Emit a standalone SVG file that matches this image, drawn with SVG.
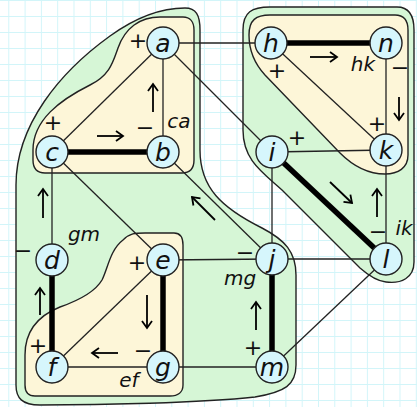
<svg xmlns="http://www.w3.org/2000/svg" width="417" height="407" viewBox="0 0 417 407">
  <style>
    .grid { stroke: #d2f5f9; stroke-width: 1; fill: none; }
    .outer { fill: #d6f6d6; stroke: #222; stroke-width: 1.4; }
    .inner { fill: #fdf6d8; stroke: #222; stroke-width: 1.4; }
    .edge { stroke: #222; stroke-width: 1.3; fill: none; }
    .thick { stroke: #000; stroke-width: 5.5; fill: none; }
    .arrow { stroke: #000; stroke-width: 1.8; fill: none; marker-end: url(#head); }
    .node circle { fill: #d6f6fc; stroke: #222; stroke-width: 1.4; }
    .node text { font-family: "DejaVu Sans", sans-serif; font-style: italic; font-size: 25px; text-anchor: middle; fill: #111; }
    .lbl { font-family: "DejaVu Sans", sans-serif; font-style: italic; font-size: 20px; text-anchor: middle; fill: #111; }
    .sign { font-family: "DejaVu Sans", sans-serif; font-size: 22px; text-anchor: middle; fill: #111; }
  </style>
  <defs>
    <pattern id="gridcell" patternUnits="userSpaceOnUse" x="8.3" y="0" width="16.3" height="16">
      <path class="grid" d="M 0.5,0 V 16 M 0,0.5 H 16.3"/>
    </pattern>
    <marker id="head" markerUnits="userSpaceOnUse" orient="auto" markerWidth="14" markerHeight="14" refX="0" refY="0" viewBox="-10 -7 14 14" overflow="visible">
      <path d="M -7,-5 L 0,0 L -7,5" fill="none" stroke="#000" stroke-width="1.8" stroke-linejoin="miter"/>
    </marker>
  </defs>

  <!-- background and grid -->
  <rect width="417" height="407" fill="#ffffff"/>
  <rect width="417" height="407" fill="url(#gridcell)"/>

  <!-- regions -->
  <g id="regions">
    <path class="outer" d="M 200,30 L 200,150 C 200,188 222,208 262,228 C 285,240 296,252 296,275 L 296,365 C 296,385 285,392 255,397 C 200,403 100,405 40,405 C 22,405 16,398 16,385 L 16,185 C 16,125 60,72 110,36 C 135,18 160,8 185,8 C 196,8 200,15 200,30 Z"/>
    <path class="outer" d="M 243,30 C 243,12 252,7 270,7 L 397,7 C 409,7 414,15 414,30 L 414,262 C 414,278 401,284 386,282 C 376,281 368,275 360,268 L 282,190 C 262,172 243,160 243,130 Z"/>
    <path class="inner" d="M 33,150 C 33,120 60,100 90,85 C 110,75 113,62 118,48 C 125,28 140,17 160,17 L 183,17 C 190,17 194,22 194,30 L 194,160 C 194,168 190,173 182,173 L 45,173 C 37,173 33,168 33,160 Z"/>
    <path class="inner" d="M 249,35 C 249,20 256,15 270,15 L 395,15 C 404,15 408,20 408,30 L 408,155 C 408,168 398,174 385,174 C 370,174 355,168 340,153 L 265,75 C 254,63 249,50 249,35 Z"/>
    <path class="inner" d="M 123,240 C 130,233 135,233 145,233 L 174,233 C 180,233 183,237 183,245 L 183,385 C 183,392 178,396 170,396 L 35,396 C 28,396 25,392 25,385 L 25,355 C 25,330 40,315 60,307 C 80,300 95,292 102,280 C 108,268 110,250 123,240 Z"/>
  </g>

  <!-- connectors -->
  <g id="connectors">
    <line class="edge" x1="163" y1="43" x2="271" y2="43"/>
    <line class="edge" x1="163" y1="43" x2="52" y2="152"/>
    <line class="edge" x1="163" y1="43" x2="163" y2="152"/>
    <line class="edge" x1="163" y1="43" x2="272" y2="152"/>
    <line class="edge" x1="52" y1="152" x2="52" y2="260"/>
    <line class="edge" x1="52" y1="152" x2="163" y2="260"/>
    <line class="edge" x1="163" y1="152" x2="272" y2="259"/>
    <line class="edge" x1="271" y1="43" x2="386" y2="150"/>
    <line class="edge" x1="386" y1="43" x2="386" y2="150"/>
    <line class="edge" x1="272" y1="152" x2="386" y2="150"/>
    <line class="edge" x1="272" y1="152" x2="272" y2="259"/>
    <line class="edge" x1="386" y1="150" x2="386" y2="259"/>
    <line class="edge" x1="163" y1="260" x2="52" y2="367"/>
    <line class="edge" x1="163" y1="260" x2="272" y2="259"/>
    <line class="edge" x1="52" y1="367" x2="163" y2="367"/>
    <line class="edge" x1="163" y1="367" x2="272" y2="367"/>
    <line class="edge" x1="272" y1="259" x2="386" y2="259"/>
    <line class="edge" x1="272" y1="367" x2="386" y2="259"/>

    <line class="thick" x1="52" y1="152" x2="163" y2="152"/>
    <line class="thick" x1="271" y1="43" x2="386" y2="43"/>
    <line class="thick" x1="272" y1="152" x2="386" y2="259"/>
    <line class="thick" x1="52" y1="260" x2="52" y2="367"/>
    <line class="thick" x1="163" y1="260" x2="163" y2="367"/>
    <line class="thick" x1="272" y1="259" x2="272" y2="367"/>

    <!-- direction arrows -->
    <line class="arrow" x1="153" y1="112" x2="153" y2="84"/>
    <line class="arrow" x1="97" y1="136" x2="123" y2="136"/>
    <line class="arrow" x1="310" y1="57" x2="337" y2="57"/>
    <line class="arrow" x1="399" y1="97" x2="399" y2="120"/>
    <line class="arrow" x1="330" y1="182" x2="352" y2="203"/>
    <line class="arrow" x1="377" y1="217" x2="377" y2="189"/>
    <line class="arrow" x1="215" y1="220" x2="192" y2="197"/>
    <line class="arrow" x1="43" y1="218" x2="43" y2="189"/>
    <line class="arrow" x1="40" y1="315" x2="40" y2="288"/>
    <line class="arrow" x1="147" y1="295" x2="147" y2="328"/>
    <line class="arrow" x1="118" y1="353" x2="92" y2="353"/>
    <line class="arrow" x1="256" y1="330" x2="256" y2="302"/>
  </g>

  <!-- nodes -->
  <g id="node-a" class="node"><circle cx="163" cy="43" r="16"/><text x="163" y="52">a</text></g>
  <g id="node-b" class="node"><circle cx="163" cy="152" r="16"/><text x="163" y="161">b</text></g>
  <g id="node-c" class="node"><circle cx="52" cy="152" r="16"/><text x="52" y="161">c</text></g>
  <g id="node-d" class="node"><circle cx="52" cy="260" r="16"/><text x="52" y="269">d</text></g>
  <g id="node-e" class="node"><circle cx="163" cy="260" r="16"/><text x="163" y="269">e</text></g>
  <g id="node-f" class="node"><circle cx="52" cy="367" r="16"/><text x="52" y="376">f</text></g>
  <g id="node-g" class="node"><circle cx="163" cy="367" r="16"/><text x="163" y="376">g</text></g>
  <g id="node-h" class="node"><circle cx="271" cy="43" r="16"/><text x="271" y="52">h</text></g>
  <g id="node-n" class="node"><circle cx="386" cy="43" r="16"/><text x="386" y="52">n</text></g>
  <g id="node-i" class="node"><circle cx="272" cy="152" r="16"/><text x="272" y="161">i</text></g>
  <g id="node-k" class="node"><circle cx="386" cy="150" r="16"/><text x="386" y="159">k</text></g>
  <g id="node-j" class="node"><circle cx="272" cy="259" r="16"/><text x="272" y="268">j</text></g>
  <g id="node-l" class="node"><circle cx="386" cy="259" r="16"/><text x="386" y="268">l</text></g>
  <g id="node-m" class="node"><circle cx="272" cy="367" r="16"/><text x="272" y="376">m</text></g>

  <!-- signs and region labels -->
  <g id="labels">
    <text class="sign" x="138" y="48">+</text>
    <text class="sign" x="53" y="130">+</text>
    <text class="sign" x="145" y="135">−</text>
    <text class="lbl" x="179" y="128">ca</text>
    <text class="sign" x="277" y="78">+</text>
    <text class="lbl" x="363" y="71">hk</text>
    <text class="sign" x="400" y="75">−</text>
    <text class="sign" x="377" y="131">+</text>
    <text class="sign" x="297" y="145">+</text>
    <text class="sign" x="378" y="239">−</text>
    <text class="lbl" x="404" y="235">ik</text>
    <text class="sign" x="23" y="258">−</text>
    <text class="lbl" x="84" y="241">gm</text>
    <text class="sign" x="137" y="270">+</text>
    <text class="sign" x="38" y="353">+</text>
    <text class="sign" x="143" y="358">−</text>
    <text class="lbl" x="129" y="387">ef</text>
    <text class="sign" x="245" y="260">−</text>
    <text class="lbl" x="240" y="285">mg</text>
    <text class="sign" x="253" y="355">+</text>
  </g>
</svg>
